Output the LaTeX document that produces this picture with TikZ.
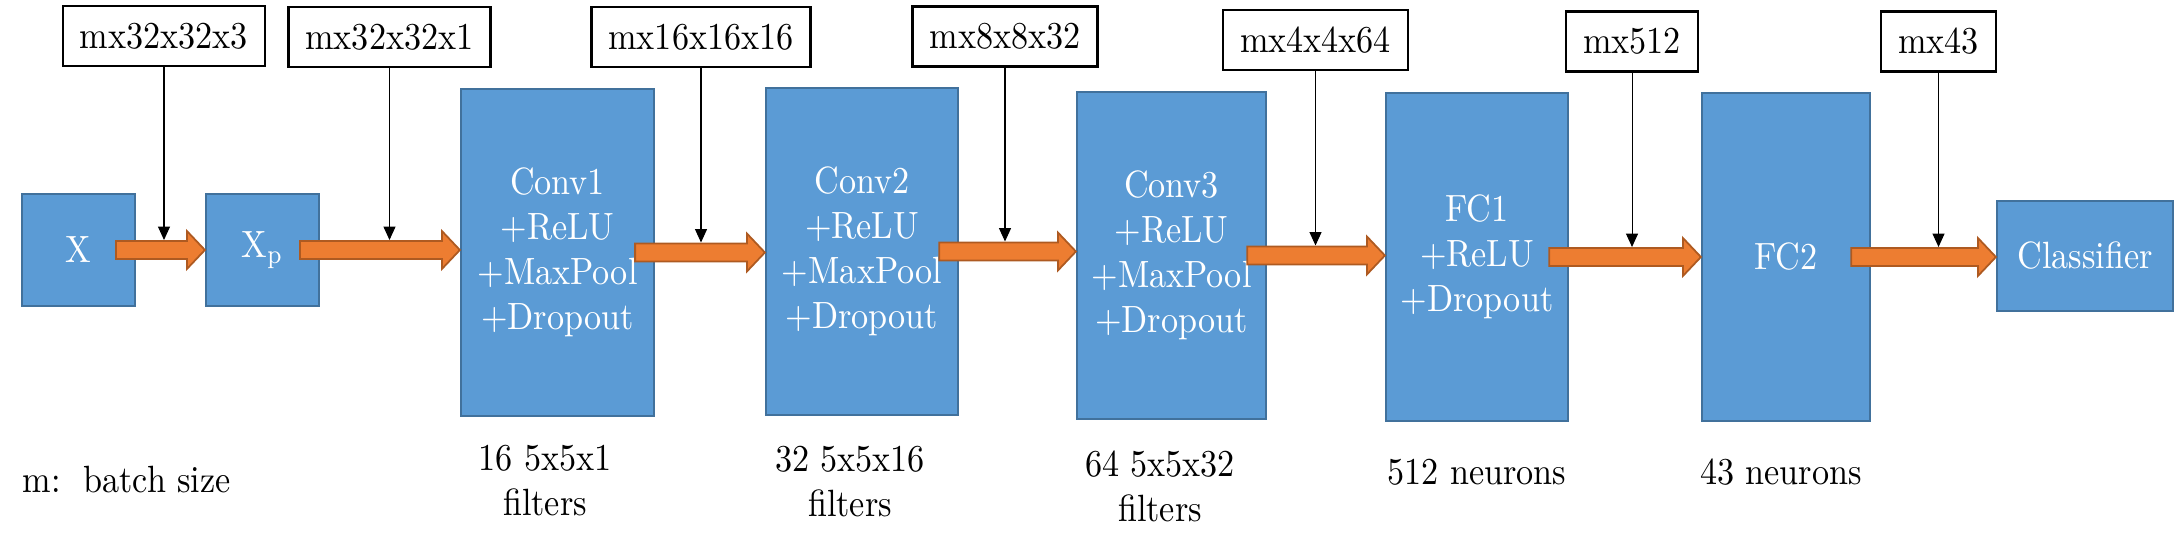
\documentclass[tikz,border=0pt]{standalone}
\usepackage{fontspec}
\setmainfont{Latin Modern Roman}[FakeStretch=0.9]
\usetikzlibrary{positioning, calc, arrows.meta}

\definecolor{layerblue}{HTML}{5B9BD5}
\definecolor{layeredge}{HTML}{41719C}
\definecolor{flowfill}{HTML}{ED7D31}
\definecolor{flowedge}{HTML}{AE5A21}

\tikzset{
  layer/.style={draw=layeredge, fill=layerblue, line width=0.6pt, text=white, align=center, inner sep=0pt},
  dimbox/.style={draw=black, fill=white, line width=0.7pt, minimum height=0.6cm, inner xsep=0.17cm, inner ysep=0pt},
  flow/.style={draw=flowedge, fill=flowfill, line width=0.5pt, line join=miter},
  note/.style={align=center, inner sep=0pt},
}

\begin{document}
\begin{tikzpicture}[x=0.01cm, y=-0.01cm, font=\fontsize{10.8}{12.8}\selectfont]
                \useasboundingbox (0,0) rectangle (2180,552);

                % layers
                \node[layer, minimum width=1.13cm, minimum height=1.12cm] (x)     at (78.5,250)   {X};
                \node[layer, minimum width=1.13cm, minimum height=1.12cm] (xp)    at (262.5,250)  {X\textsubscript{p}};
                \node[layer, minimum width=1.93cm, minimum height=3.27cm] (conv1) at (557.5,252.5) {Conv1\\+ReLU\\+MaxPool\\+Dropout};
                \node[layer, minimum width=1.92cm, minimum height=3.27cm] (conv2) at (862,251.5)   {Conv2\\+ReLU\\+MaxPool\\+Dropout};
                \node[layer, minimum width=1.89cm, minimum height=3.27cm] (conv3) at (1171.5,255.5) {Conv3\\+ReLU\\+MaxPool\\+Dropout};
                \node[layer, minimum width=1.82cm, minimum height=3.28cm] (fc1)   at (1477,257)   {FC1\\+ReLU\\+Dropout};
                \node[layer, minimum width=1.68cm, minimum height=3.28cm] (fc2)   at (1786,257)   {FC2};
                \node[layer, minimum width=1.76cm, minimum height=1.10cm] (cls)   at (2085,256)   {Classifier};

                % block arrows between layers
                \foreach \a/\b in {x/xp, xp/conv1, conv1/conv2, conv2/conv3, conv3/fc1, fc1/fc2, fc2/cls} {
                    \coordinate (s) at ($(\a.east)+(-20,0)$);
                    \coordinate (t) at (\a.east -| \b.west);
                    \draw[flow] ($(s)+(0,-9)$) -- ($(t)+(-18,-9)$) -- ($(t)+(-18,-19)$) -- (t)
                        -- ($(t)+(-18,19)$) -- ($(t)+(-18,9)$) -- ($(s)+(0,9)$) -- cycle;
                }

                % tensor sizes
                \node[dimbox] (dim1) at (164,36)     {mx32x32x3};
                \node[dimbox] (dim2) at (389.5,37)   {mx32x32x1};
                \node[dimbox] (dim3) at (701,37)     {mx16x16x16};
                \node[dimbox] (dim4) at (1005,36.5)  {mx8x8x32};
                \node[dimbox] (dim5) at (1315.5,40)  {mx4x4x64};
                \node[dimbox] (dim6) at (1632,41.5)  {mx512};
                \node[dimbox] (dim7) at (1938.5,41.5) {mx43};
                \foreach \d/\a in {dim1/x, dim2/xp, dim3/conv1, dim4/conv2, dim5/conv3, dim6/fc1, dim7/fc2}
                    \draw[-{Triangle[length=3.8pt,width=3.4pt]}, line width=0.3pt] (\d.south) -- ($(\d.south |- \a.east)+(0,-10)$);

                % notes below
                \node[note, anchor=west] (batch) at (22,480) {m:\ \ batch size};
                \node[note] (f1) at (545,481)  {16 5x5x1\\filters};
                \node[note] (f2) at (850,482)  {32 5x5x16\\filters};
                \node[note] (f3) at (1160,486) {64 5x5x32\\filters};
                \node[note] (n1) at (1477,472) {512 neurons};
                \node[note] (n2) at (1781,472) {43 neurons};
            \end{tikzpicture}
\end{document}
